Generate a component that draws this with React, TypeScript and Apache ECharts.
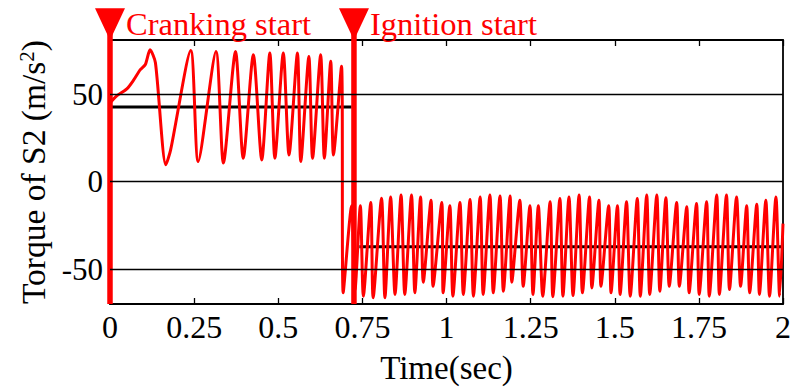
import { useEffect, useRef } from "react";
import * as echarts from "echarts";

const FONT = "Liberation Serif";

// x ticks (sec) and y ticks
const xTicks = [0, 0.25, 0.5, 0.75, 1, 1.25, 1.5, 1.75, 2];
const yTicks = [-50, 0, 50];

// Cranking phase
const crankingT = [
  0, 0.02, 0.05, 0.07, 0.09, 0.105, 0.119, 0.135, 0.166, 0.18, 0.24, 0.262, 0.315, 0.337,
  0.373, 0.396, 0.426, 0.451, 0.475, 0.49, 0.515, 0.532, 0.557, 0.567, 0.591, 0.602,
  0.626, 0.637, 0.656, 0.664, 0.688,
];
const crankingV = [
  45, 49, 53, 58, 64, 67, 75.4, 68, 9.6, 18, 75, 11.5, 74.4, 10.6,
  74.4, 13.4, 72.5, 12.4, 73.5, 13.4, 73.5, 15.2, 73.5, 11.5, 71.6, 13.4,
  72.5, 13.4, 68.8, 15.2, 66,
];

// Ignition phase
const ignitionT = [
  0.693, 0.718, 0.728, 0.744, 0.753, 0.775, 0.782,
  0.807, 0.817, 0.834, 0.847, 0.865, 0.876, 0.896, 0.906, 0.923, 0.931, 0.954, 0.96,
  0.986, 0.99, 1.01, 1.019, 1.04, 1.05, 1.07, 1.08, 1.1, 1.109, 1.129, 1.139,
  1.159, 1.169, 1.189, 1.194, 1.218, 1.228, 1.248, 1.257, 1.273, 1.286, 1.308, 1.316,
  1.337, 1.346, 1.364, 1.376, 1.394, 1.404, 1.425, 1.432, 1.453, 1.459, 1.482, 1.489,
  1.508, 1.516, 1.535, 1.546, 1.567, 1.576, 1.595, 1.604, 1.625, 1.634, 1.652, 1.662,
  1.684, 1.692, 1.714, 1.721, 1.743, 1.751, 1.773, 1.781, 1.803, 1.811, 1.832, 1.841,
  1.862, 1.874, 1.892, 1.901, 1.922, 1.93, 1.949, 1.96, 1.979, 1.99, 2.0,
];
const ignitionV = [
  -63.6, -13.8, -62, -13.8, -65.5, -12, -66.4,
  -9.5, -66.4, -8.8, -64.5, -7.6, -64.5, -7.6, -63.6, -8.8, -57.5, -10.7, -59.9,
  -12, -63.6, -13.8, -65.5, -12, -64.5, -10.2, -65.5, -8.8, -64.5, -7.6, -63.6,
  -8.2, -62.7, -8.2, -57.5, -10.7, -59.9, -13.8, -64.5, -13.8, -65.5, -11.5, -65.8,
  -9.6, -65.5, -8.8, -65.2, -7.6, -63.6, -8.8, -60.8, -10.7, -59.9, -13.8, -63.6,
  -13.8, -64.5, -11.5, -65.5, -9.6, -65.5, -7.6, -64.5, -7.6, -62.7, -9.2, -59.9,
  -12, -59.9, -14.4, -63.6, -12.5, -64.5, -11.5, -65.5, -7.6, -64.5, -7.6, -61.7,
  -8.8, -59.9, -13.8, -63.6, -13, -64.5, -10.7, -65.5, -8.8, -65.5, -24,
];

// Mean levels: [start, end, value]
const meanCranking = [0, 0.718, 42.7];
const meanIgnition = [0.741, 2, -37.3];

// Events
const eventTimes = [0, 0.725];
const eventLabels = ["Cranking start", "Ignition start"];
const Y_MIN = -70;
const Y_MAX = 81;
const EVENT_TOP = 90;

const signal = [
  ...crankingT.map((t, i) => [t, crankingV[i]]),
  ...ignitionT.map((t, i) => [t, ignitionV[i]]),
];

export default function App() {
  const ref = useRef<HTMLDivElement>(null);
  useEffect(() => {
    const chart = echarts.init(ref.current!, null, { renderer: "svg" });
    const axisLineStyle = { color: "#000", width: 1.8 };
    const option: any = {
      animation: false,
      backgroundColor: "#fff",
      grid: { left: 110, right: 11, top: 40, bottom: 81 },
      xAxis: [
        {
          type: "value",
          min: 0,
          max: 2,
          interval: 0.25,
          position: "bottom",
          axisLine: { show: true, onZero: false, lineStyle: axisLineStyle },
          axisTick: { show: true, inside: true, length: 6, lineStyle: { color: "#000", width: 1.3 } },
          axisLabel: {
            color: "#000",
            fontFamily: FONT,
            fontSize: 32,
            margin: 7,
            customValues: xTicks,
          },
          splitLine: { show: false },
          name: "Time(sec)",
          nameLocation: "middle",
          nameGap: 47,
          nameTextStyle: { color: "#000", fontFamily: FONT, fontSize: 33 },
        },
        {
          type: "value",
          min: 0,
          max: 2,
          interval: 0.25,
          position: "top",
          axisLine: { show: true, onZero: false, lineStyle: axisLineStyle },
          axisTick: { show: true, inside: true, length: 6, lineStyle: { color: "#000", width: 1.3 } },
          axisLabel: { show: false },
          splitLine: { show: false },
        },
      ],
      yAxis: [
        {
          type: "value",
          min: Y_MIN,
          max: Y_MAX,
          position: "left",
          axisLine: { show: true, onZero: false, lineStyle: axisLineStyle },
          axisTick: { show: false },
          axisLabel: {
            color: "#000",
            fontFamily: FONT,
            fontSize: 31,
            margin: 7,
            customValues: yTicks,
          },
          splitLine: { show: false },
          name: "Torque of S2 (m/s{sup|2})",
          nameLocation: "middle",
          nameGap: 60,
          nameRotate: 90,
          nameTextStyle: {
            color: "#000",
            fontFamily: FONT,
            fontSize: 33.5,
            rich: {
              sup: { fontFamily: FONT, fontSize: 21, color: "#000", verticalAlign: "top" },
            },
          },
        },
        {
          type: "value",
          min: Y_MIN,
          max: Y_MAX,
          position: "right",
          axisLine: { show: true, onZero: false, lineStyle: axisLineStyle },
          axisTick: { show: false },
          axisLabel: { show: false },
          splitLine: { show: false },
        },
      ],
      series: [
        {
          type: "line",
          name: "meanCranking",
          data: [
            [meanCranking[0], meanCranking[2]],
            [meanCranking[1], meanCranking[2]],
          ],
          showSymbol: false,
          lineStyle: { color: "#000", width: 3 },
          z: 2,
          markLine: {
            silent: true,
            symbol: "none",
            label: { show: false },
            lineStyle: { color: "#000", width: 1.4, type: "solid" },
            data: yTicks.map((v) => ({ yAxis: v })),
          },
        },
        {
          type: "line",
          name: "meanIgnition",
          data: [
            [meanIgnition[0], meanIgnition[2]],
            [meanIgnition[1], meanIgnition[2]],
          ],
          showSymbol: false,
          lineStyle: { color: "#000", width: 3 },
          z: 2,
        },
        {
          type: "line",
          name: "signal",
          data: signal,
          showSymbol: false,
          smooth: 0.25,
          lineStyle: { color: "#ff0000", width: 3, join: "round" },
          z: 3,
        },
        ...eventTimes.map((t, i) => ({
          type: "line",
          name: eventLabels[i],
          clip: false,
          z: 4,
          showSymbol: true,
          symbol: "triangle",
          lineStyle: { color: "#ff0000", width: 5.5 },
          itemStyle: { color: "#ff0000" },
          data: [
            { value: [t, Y_MIN], symbol: "none" },
            {
              value: [t, EVENT_TOP],
              symbol: "triangle",
              symbolSize: [30, 32],
              symbolRotate: 180,
              label: {
                show: true,
                position: "right",
                distance: 1,
                formatter: eventLabels[i],
                color: "#ff0000",
                fontFamily: FONT,
                fontSize: 32.5,
              },
            },
          ],
        })),
      ],
    };
    chart.setOption(option);
    return () => chart.dispose();
  }, []);
  return (
    <div
      ref={ref}
      style={{ position: "fixed", left: 0, top: 0, width: 794, height: 389, background: "#fff" }}
    />
  );
}
